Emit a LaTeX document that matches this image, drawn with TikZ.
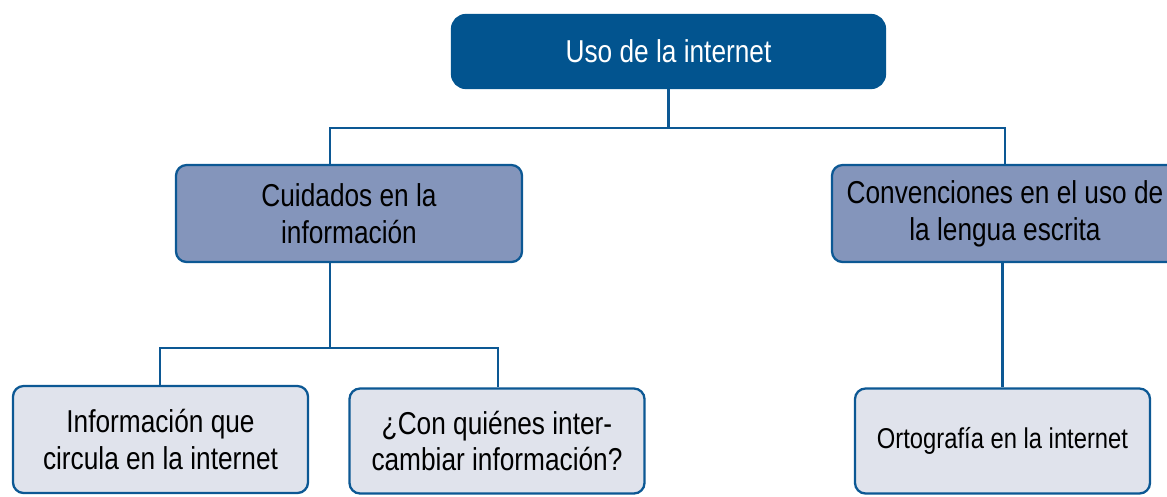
\documentclass[tikz,border=0pt]{standalone}
\usepackage{fontspec}
\setmainfont{Liberation Sans}[FakeStretch=0.83]
\usepackage{xcolor}
\definecolor{usdark}{RGB}{2,84,143}
\definecolor{usline}{RGB}{12,88,148}
\definecolor{usmid}{RGB}{132,149,187}
\definecolor{uslight}{RGB}{224,227,236}
\usetikzlibrary{positioning,calc}
\tikzset{
  topbox/.style={draw=usdark,fill=usdark,text=white,rounded corners=8pt,line width=1.3pt,
                 minimum width=8.66cm,minimum height=1.46cm,inner sep=0pt,align=center,
                 font=\fontsize{18}{21}\selectfont},
  midbox/.style={draw=usline,fill=usmid,text=black,rounded corners=6pt,line width=1.3pt,
                 minimum width=6.92cm,minimum height=1.94cm,inner sep=0pt,align=center,
                 font=\fontsize{18}{21}\selectfont},
  leafbox/.style={draw=usline,fill=uslight,text=black,rounded corners=6pt,line width=1.3pt,
                  minimum width=5.9cm,minimum height=2.1cm,inner sep=0pt,align=center,
                  font=\fontsize{18}{21}\selectfont},
  link/.style={draw=usline,line width=1.4pt}
}

\begin{document}
\begin{tikzpicture}
  \useasboundingbox (0,0) rectangle (23.34,-9.92);
  \clip (0,0) rectangle (23.34,-9.92);

  % boxes
  \node[topbox] (uso) at (13.37,-1.03) {Uso de la internet};
  \node[midbox] (cuid) at (6.98,-4.27) {Cuidados en la\\información};
  \node[midbox] (conv) at (20.10,-4.27) {Convenciones en el uso de\\la lengua escrita};
  \node[leafbox,minimum height=2.14cm] (circ) at (3.21,-8.79) {Información que\\circula en la internet};
  \node[leafbox] (quien) at (9.94,-8.82) {¿Con quiénes inter-\\cambiar información?};
  \node[leafbox,font=\fontsize{16.3}{19}\selectfont] (orto) at (20.05,-8.82) {Ortografía en la internet};

  % junctions
  \coordinate (jl) at (6.60,-2.56);
  \coordinate (jr) at (20.10,-2.56);
  \coordinate (kl) at (3.20,-6.96);
  \coordinate (kr) at (9.96,-6.96);

  % connectors
  \draw[link] (uso.south) -- (uso.south |- jl);
  \draw[link] (jl |- cuid.north) -- (jl) -- (jr) -- (jr |- conv.north);
  \draw[link] (jl |- cuid.south) -- (jl |- kl);
  \draw[link] (kl |- circ.north) -- (kl) -- (kr) -- (kr |- quien.north);
  \draw[link] (conv.south -| orto.north) -- (orto.north);
\end{tikzpicture}
\end{document}
